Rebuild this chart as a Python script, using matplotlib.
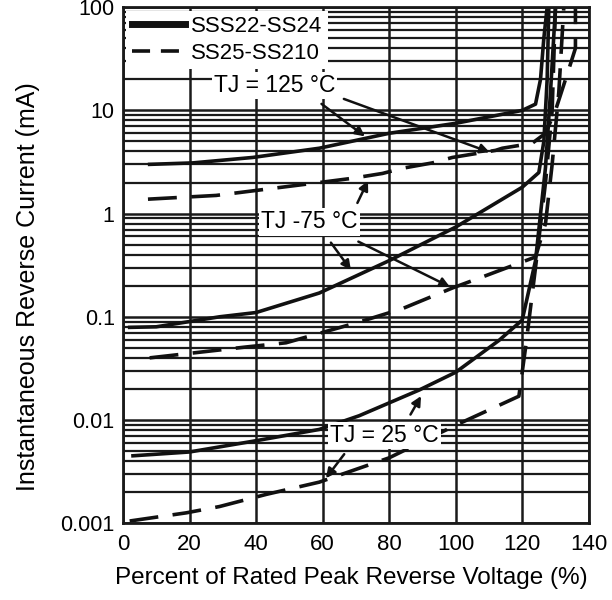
import matplotlib
matplotlib.use("Agg")
import matplotlib.pyplot as plt
from matplotlib.ticker import LogLocator, FixedLocator, NullFormatter

plt.rcParams['font.family'] = ['Liberation Sans', 'DejaVu Sans']

# ---- data ----
s125_x = [8, 21, 39, 59, 80, 100, 120, 124, 125.5, 126.5, 127.5]
s125_y = [3.0, 3.1, 3.5, 4.3, 6.0, 7.5, 10.0, 11.5, 20, 50, 100]

d125_x = [7.5, 28, 35, 59, 69, 78, 84, 93, 99, 112, 114, 123, 127, 130, 134, 136, 136]
d125_y = [1.38, 1.5, 1.6, 2.0, 2.2, 2.45, 2.75, 3.1, 3.5, 4.1, 4.3, 4.8, 6.0, 10, 25, 40, 100]

s75_x = [2, 10, 29, 40, 59, 80, 100, 120, 125, 126.5, 127.5, 128]
s75_y = [0.079, 0.08, 0.1, 0.11, 0.17, 0.35, 0.74, 1.8, 2.5, 5, 20, 100]

d75_x = [8, 37, 49, 71, 84, 99, 109, 124, 127, 129, 131, 132.5]
d75_y = [0.04, 0.051, 0.056, 0.089, 0.12, 0.19, 0.25, 0.38, 0.8, 3, 15, 100]

s25_x = [3, 20, 40, 59, 71, 89, 100, 113, 120, 124, 127, 128.5, 130]
s25_y = [0.0045, 0.0049, 0.0063, 0.0081, 0.011, 0.0195, 0.029, 0.059, 0.093, 0.35, 2.8, 15, 100]

d25_x = [2, 19, 29, 43, 59, 80, 100, 119, 121, 124, 127, 129, 130]
d25_y = [0.00105, 0.00126, 0.00145, 0.0019, 0.0025, 0.0043, 0.0089, 0.017, 0.05, 0.3, 2, 10, 100]

x_ticks = [0, 20, 40, 60, 80, 100, 120, 140]
y_ticks = [0.001, 0.01, 0.1, 1, 10, 100]
y_tick_labels = ["0.001", "0.01", "0.1", "1", "10", "100"]
legend_labels = ["SSS22-SS24", "SS25-SS210"]

fig = plt.figure(figsize=(6.12, 6.0), dpi=100)
ax = fig.add_axes([0.201, 0.128, 0.761, 0.860])
ax.set_yscale('log')
ax.set_xlim(0, 140)
ax.set_ylim(0.001, 100)

ax.set_xticks(x_ticks)
ax.set_xticklabels([str(v) for v in x_ticks], fontsize=16)
ax.yaxis.set_major_locator(FixedLocator(y_ticks))
ax.set_yticklabels(y_tick_labels, fontsize=15.5)
ax.yaxis.set_minor_locator(LogLocator(base=10, subs=range(2, 10), numticks=20))
ax.yaxis.set_minor_formatter(NullFormatter())
ax.tick_params(axis='x', which='both', length=0, pad=8)
ax.tick_params(axis='y', which='both', length=0, pad=6)

ax.grid(True, which='major', axis='both', color='#1a1a1a', linewidth=1.8)
ax.grid(True, which='minor', axis='y', color='#1a1a1a', linewidth=1.6)
ax.set_axisbelow(True)
for sp in ax.spines.values():
    sp.set_linewidth(2.0)
    sp.set_color('#1a1a1a')

lw = 2.6
dash = (0, (8, 4))
l1, = ax.plot(s125_x, s125_y, color='#111111', lw=lw)
l2, = ax.plot(d125_x, d125_y, color='#111111', lw=lw, linestyle=dash)
ax.plot(s75_x, s75_y, color='#111111', lw=lw)
ax.plot(d75_x, d75_y, color='#111111', lw=lw, linestyle=dash)
ax.plot(s25_x, s25_y, color='#111111', lw=lw)
ax.plot(d25_x, d25_y, color='#111111', lw=lw, linestyle=dash)

leg = ax.legend([l1, l2], legend_labels, loc='upper left', fontsize=16,
                frameon=True, fancybox=False, framealpha=1.0, edgecolor='none',
                facecolor='white', handlelength=2.4, handletextpad=0.25,
                borderaxespad=0.15, borderpad=0.25, labelspacing=0.25)
leg.get_lines()[0].set_linewidth(5)
leg.get_lines()[1].set_linestyle((0, (5, 3)))

tb = dict(facecolor='white', edgecolor='none', pad=1.5)
arrowprops = dict(arrowstyle='-|>', color='#111111', lw=1.8, mutation_scale=14)

ax.text(45.6, 17.5, "TJ = 125 °C", fontsize=16.5, ha='center', va='center', bbox=tb, zorder=5)
ax.annotate("", xy=(73.4, 5.4), xytext=(59, 12), arrowprops=arrowprops, zorder=6)
ax.annotate("", xy=(111, 3.85), xytext=(65.6, 13.2), arrowprops=arrowprops, zorder=6)

ax.text(56, 0.83, "TJ -75 °C", fontsize=16.5, ha='center', va='center', bbox=tb, zorder=5)
ax.annotate("", xy=(74, 2.2), xytext=(70.1, 1.2), arrowprops=arrowprops, zorder=6)
ax.annotate("", xy=(69, 0.27), xytext=(62, 0.55), arrowprops=arrowprops, zorder=6)
ax.annotate("", xy=(99, 0.19), xytext=(70, 0.55), arrowprops=arrowprops, zorder=6)

ax.text(78.5, 0.0071, "TJ = 25 °C", fontsize=16.5, ha='center', va='center', bbox=tb, zorder=5)
ax.annotate("", xy=(90, 0.018), xytext=(86, 0.0107), arrowprops=arrowprops, zorder=6)
ax.annotate("", xy=(60.5, 0.0026), xytext=(67, 0.0049), arrowprops=arrowprops, zorder=6)

ax.set_xlabel("Percent of Rated Peak Reverse Voltage (%)", fontsize=17.5)
ax.xaxis.set_label_coords(0.49, -0.107)
ax.xaxis.label.set_va('center')
ax.set_ylabel("Instantaneous Reverse Current (mA)", fontsize=18)
ax.yaxis.set_label_coords(-0.204, 0.459)
ax.yaxis.label.set_va('center')

fig.savefig("out.png", dpi=100)
